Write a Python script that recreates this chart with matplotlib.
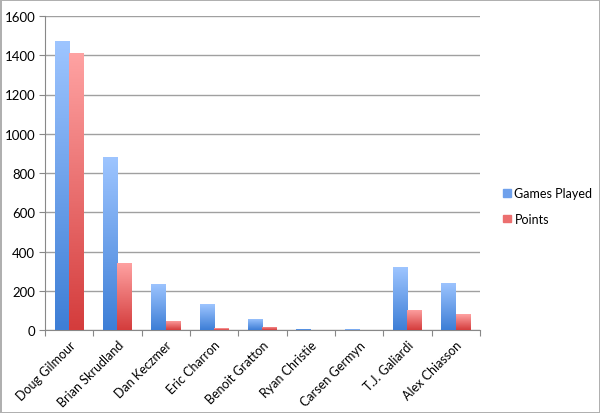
import numpy as np
import matplotlib.pyplot as plt
from matplotlib.colors import LinearSegmentedColormap
from matplotlib.patches import Patch

players = ["Doug Gilmour", "Brian Skrudland", "Dan Keczmer", "Eric Charron",
           "Benoit Gratton", "Ryan Christie", "Carsen Germyn", "T.J. Galiardi",
           "Alex Chiasson"]
games = [1474, 881, 235, 130, 58, 6, 3, 319, 240]
points = [1414, 343, 46, 9, 16, 0, 0, 104, 80]

plt.rcParams['font.family'] = ['Lato', 'DejaVu Sans']

fig = plt.figure(figsize=(6, 4.14), dpi=100, edgecolor='#b0b0b0', linewidth=2)
ax = fig.add_axes([45/600, 1 - 331/414, 435/600, 314/414])

x = np.arange(len(players))
w = 0.3
blue_cm = LinearSegmentedColormap.from_list("b", ["#3d7ed6", "#9ec5ff"])
red_cm = LinearSegmentedColormap.from_list("r", ["#d43c3c", "#ffa3a3"])

bars1 = ax.bar(x - w/2, games, w, color='#6fa1ec', zorder=2)
bars2 = ax.bar(x + w/2, points, w, color='#ec6f6f', zorder=2)

# vertical gradient inside each bar
grad = np.linspace(0, 1, 256).reshape(-1, 1)
for bars, cm in ((bars1, blue_cm), (bars2, red_cm)):
    for b in bars:
        h = b.get_height()
        if h <= 0:
            continue
        x0 = b.get_x()
        im = ax.imshow(grad, cmap=cm, origin='lower', aspect='auto',
                       extent=[x0, x0 + b.get_width(), 0, h], zorder=3)
        im.set_clip_path(b)

ax.set_xlim(-0.5, len(players) - 0.5)
ax.set_ylim(0, 1600)
ax.set_yticks(range(0, 1601, 200))
ax.tick_params(axis='y', labelsize=9.5, length=4, color='#888888', pad=3)
ax.yaxis.grid(True, color='#a0a0a0', linewidth=1, zorder=0)
ax.set_axisbelow(True)

ax.set_xticks(np.arange(-0.5, len(players), 1))
ax.set_xticklabels([])
ax.tick_params(axis='x', length=4, color='#888888')
ax.set_xticks(x, minor=True)
ax.set_xticklabels(players, minor=True, rotation=45, ha='right',
                   rotation_mode='anchor', fontsize=9)
ax.tick_params(axis='x', which='minor', length=0, pad=6)

for s in ['top', 'right']:
    ax.spines[s].set_visible(False)
for s in ['left', 'bottom']:
    ax.spines[s].set_color('#888888')

handles = [Patch(color='#6fa1ec', label='Games Played'),
           Patch(color='#ec6f6f', label='Points')]
fig.legend(handles=handles, loc='center left', bbox_to_anchor=(492/600, 1 - 207/414),
           frameon=False, fontsize=9, handlelength=0.6, handleheight=0.6,
           handletextpad=0.3, labelspacing=1.1)

fig.savefig("out.png", dpi=100, edgecolor=fig.get_edgecolor())
